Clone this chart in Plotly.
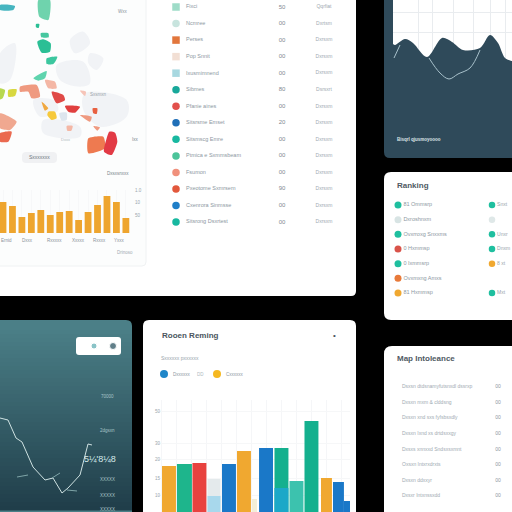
import plotly.graph_objects as go

# ---------- data ----------
map_land = [
    [(170,195),(250,185),(270,250),(240,260),(180,240)],
    [(210,120),(250,95),(270,130),(225,160)],
    [(270,160),(310,175),(290,210),(265,190)],
    [(0,160),(45,130),(30,240),(0,250)],
    [(255,280),(380,300),(380,350),(300,380),(250,330)],
    [(130,360),(240,380),(240,410),(130,400)],
    [(100,300),(160,300),(175,330),(120,350)],
]
map_regions = [
    ([(115,0),(150,0),(145,60),(118,50)], "#6fd3ad"),
    ([(108,72),(118,72),(116,84),(108,82)], "#2bbf95"),
    ([(122,100),(145,100),(146,112),(124,112)], "#46c79f"),
    ([(112,125),(130,118),(152,130),(150,155),(125,158)], "#2bbf95"),
    ([(140,175),(172,170),(160,192),(140,192)], "#3cc79f"),
    ([(100,235),(140,213),(135,235),(115,242)], "#5fd4ae"),
    ([(25,270),(50,268),(45,288),(25,290)], "#d8d840"),
    ([(0,265),(15,270),(8,295),(0,298)], "#b8d850"),
    ([(60,260),(110,255),(120,290),(95,295),(85,275),(60,275)], "#ef9a80"),
    ([(135,240),(165,245),(170,265),(145,265)], "#f4b7a5"),
    ([(155,275),(190,285),(195,300),(170,310)], "#e04a47"),
    ([(195,318),(240,320),(225,338),(205,335)], "#e0403f"),
    ([(125,305),(145,325),(135,332)], "#f0a840"),
    ([(145,335),(165,335),(170,355),(155,360),(142,345)], "#f6c93c"),
    ([(178,340),(200,338),(200,360),(185,362)], "#dde6ee"),
    ([(278,325),(292,325),(290,342),(280,340)], "#e86040"),
    ([(265,415),(310,410),(315,445),(265,460)], "#ee7a50"),
    ([(328,395),(345,398),(352,425),(335,465),(312,455),(320,415)], "#e23a45"),
    ([(0,400),(35,395),(25,425),(0,425)], "#ea6a50"),
    ([(0,340),(50,365),(30,390),(0,385)], "#f0a890"),
    ([(240,345),(275,350),(270,365)], "#ef9a80"),
    ([(240,272),(258,275),(255,288)], "#f6c4b8"),
    ([(200,378),(218,378),(214,392),(202,392)], "#f4b7a5"),
    ([(280,378),(300,382),(292,392)], "#ef9a80"),
    ([(0,15),(45,18),(40,30),(0,30)], "#46b5c0"),
]
orange_vals = [31,27,16,20,23,18,21,22,13,21,28,37,31,15]
orange_ticks = ["Ernid","Dxxx","Rxxxxx","Xxxxx","Rxxxx","Yxxx"]

table_names = ["Fixci","Ncmree","Perses","Pop Snnit","Ixusmimnend","Sibmes","Pfanie aines",
               "Sitsrsme Emset","Sitsmscg Emre","Ptmica e Sxmmsbeam","Fsumon","Pxeotome Sxmrsem",
               "Cxenrora Sinmsse","Sitsrong Dsxrtest"]
table_vals = ["50","00","00","00","00","80","00","20","00","00","00","90","00","00"]
table_dates = ["Qqrfiat","Dxrtsm","Dxrsxm","Dxrsxm","Dxrsxm","Dsrsxrt","Dxrsxm","Dxrsxm","Dxrsxm",
               "Dxrsxm","Dxrsxm","Dxrsxm","Dxrsxm","Dxrsxm"]
table_cols = ["#9fdcc8","#c8e4de","#e2763c","#f2dfd4","#a8d8e0","#18a89a","#e2504c","#1f6fb8",
              "#18b8a0","#4cc49a","#f0907c","#e2583c","#1f7fc8","#18b8a0"]
table_syms = ["square","circle","square","square","square"] + ["circle"] * 9

wave_x = [395,405,413,427,442,452,463,480,490,498,505,512]
wave_y = [45,39,43,57,38,42,50,48,35,43,58,61]
inner1_x = [394,400]
inner1_y = [58,45]
inner2_x = [429,440,449,458,470,480]
inner2_y = [58,73,79,74,68,50]

teal_x = [0,8,16,22,33,38,45,53,62,68,80,88,92]
teal_y = [418,420,438,442,467,472,480,478,493,488,475,444,445]
teal_ticks = ["70000","2dgsxn","XXXXX","XXXXX","XXXXX"]
teal_tick_pos = [396,430,479,495,509]

bar_week = [0,1.03,2.03,3,4,5,5.7,6.47,7.5,8.5,9.5,10.5,11.3,11.87]
bar_width = [0.93,1,0.93,0.87,0.93,0.93,0.33,0.93,0.93,0.93,0.93,0.73,0.73,0.4]
bar_vals = [46,48,49,33,48,61,13,64,64,31,91,34,30,11]
bar_cols = ["#f0a830","#1eb58c","#e8423f","#e4eaec","#1a78c8","#f0a830","#f3efd8","#1a78c8",
            "#14b08e","#3cc2ae","#14b08e","#f0a830","#1a78c8","#1a78c8"]
bar_lower = [0,0,0,16,0,0,0,0,24,0,0,0,0,0]
bar_lower_cols = ["#000"]*3+["#a8d8ec"]+["#000"]*4+["#1ca8c8"]+["#000"]*5
bar_ticks = ["50","30","20","15","10"]
bar_tick_vals = [101,69,53,34,17]

rank_left = ["81 Ommsrp","Dxroshnxm","Ovxrroxg Snxxms","0 Hxmmsp","0 Ixmmsrp","Ovxmxng Amxs","81 Hxmmsp"]
rank_left_cols = ["#1fbf9f","#d8e4e4","#1fbf9f","#d9534a","#1fbf9f","#e87a3a","#f0a830"]
rank_right = ["Snxt","","Unxr","Dnxm","8 xt","Mxt"]
rank_right_cols = ["#1fbf9f","#dfe8e8","#1fbf9f","#1fbf9f","#f0a830","#1fbf9f"]
rank_right_rows = [0,1,2,3,4,6]

inter_names = ["Dsxsn dtdsnamyfutsnxdl dssrxp","Dxsxn mxm & clddsng","Dxsxn xnd sxs fyfsbsxdly",
               "Dxsxn Ixnd xs drtdsxxgy","Dxsxs xnnxxd Sndsxsxmnt","Oxsxn Intxrxdrxts",
               "Dxsxn ddxxyr","Dxsxr Intxnssxdd"]
inter_vals = ["00","00","00","00","00","00","00","00"]

# ---------- helpers ----------
W = 512
fx = lambda x: x / W
fy = lambda y: 1 - y / W
fig = go.Figure()
shapes, annos = [], []

def rounded(x0, y0, x1, y1, r, fill, line=None):
    p = (f"M {fx(x0+r)} {fy(y0)} L {fx(x1-r)} {fy(y0)} Q {fx(x1)} {fy(y0)} {fx(x1)} {fy(y0+r)} "
         f"L {fx(x1)} {fy(y1-r)} Q {fx(x1)} {fy(y1)} {fx(x1-r)} {fy(y1)} "
         f"L {fx(x0+r)} {fy(y1)} Q {fx(x0)} {fy(y1)} {fx(x0)} {fy(y1-r)} "
         f"L {fx(x0)} {fy(y0+r)} Q {fx(x0)} {fy(y0)} {fx(x0+r)} {fy(y0)} Z")
    shapes.append(dict(type="path", path=p, xref="paper", yref="paper", fillcolor=fill,
                       line=dict(color=line or fill, width=1 if line else 0), layer="below"))

def text(x, y, s, size=5.5, color="#9aa5ad", anchor="left", bold=False, family="Liberation Sans"):
    annos.append(dict(x=fx(x), y=fy(y), xref="paper", yref="paper", text=f"<b>{s}</b>" if bold else s,
                      showarrow=False, xanchor=anchor, yanchor="middle", borderpad=0,
                      font=dict(size=size, color=color, family=family)))

axis_n = [0]
layout_axes = {}
def axes(x0, x1, y0, y1, xr, yr, xopts=None, yopts=None):
    axis_n[0] += 1
    n = axis_n[0]
    base = dict(showgrid=False, zeroline=False, showticklabels=False, ticks="", showline=False, fixedrange=True)
    xa = dict(base, domain=[fx(x0), fx(x1)], range=xr, anchor=f"y{n}" if n > 1 else "y")
    xa.update(xopts or {})
    ya = dict(base, domain=[fy(y1), fy(y0)], range=yr, anchor=f"x{n}" if n > 1 else "x")
    ya.update(yopts or {})
    layout_axes["xaxis" + (str(n) if n > 1 else "")] = xa
    layout_axes["yaxis" + (str(n) if n > 1 else "")] = ya
    return ("x" + (str(n) if n > 1 else ""), "y" + (str(n) if n > 1 else ""))

# ---------- panels ----------
rounded(-10, -10, 356, 296, 5, "#ffffff")
rounded(-10, -10, 146, 266, 4, "#fcfdfd", "#f0f2f3")
rounded(384, -10, 530, 158, 6, "#2f4a5a")
rounded(384, 172, 530, 320, 7, "#ffffff")
rounded(384, 346, 530, 530, 8, "#ffffff")
rounded(143, 320, 356, 530, 6, "#ffffff")
rounded(-10, 320, 132, 530, 6, "#4b7f87")
# vertical shading of the teal panel
top, bot = (75, 127, 135), (32, 62, 74)
N = 46
for i in range(N):
    t = i / (N - 1)
    c = tuple(round(top[k] + (bot[k] - top[k]) * t) for k in range(3))
    y0 = 326 + i * 4
    shapes.append(dict(type="rect", xref="paper", yref="paper", x0=0, x1=fx(132), y0=fy(y0 + 4.5), y1=fy(y0),
                       fillcolor=f"rgb{c}", line=dict(width=0), layer="below"))

# ---------- map ----------
xa, ya = axes(0, 146, 0, 200, [0, 438], [600, 0])
for poly in map_land:
    fig.add_trace(go.Scatter(x=[p[0] for p in poly] + [poly[0][0]], y=[p[1] for p in poly] + [poly[0][1]],
                             fill="toself", mode="lines", fillcolor="#f1f3f6",
                             line=dict(width=0, shape="spline"), xaxis=xa, yaxis=ya,
                             hoverinfo="skip", showlegend=False))
for poly, c in map_regions:
    fig.add_trace(go.Scatter(x=[p[0] for p in poly] + [poly[0][0]], y=[p[1] for p in poly] + [poly[0][1]],
                             fill="toself", mode="lines", fillcolor=c,
                             line=dict(width=0, shape="spline", smoothing=0.6), xaxis=xa, yaxis=ya,
                             hoverinfo="skip", showlegend=False))
rounded(22, 152, 57, 163, 4, "#f0f1f3")
text(39.5, 157, "Sxxxxxxx", 5, "#6c7680", "center")
text(122, 11, "Wxx", 4.5, "#8a949c", "center")
text(98, 94, "Sxsmxn", 4.5, "#9aa3aa", "center")
text(65, 139, "Dxxx", 4, "#b0b8be", "center")
text(135, 139, "Ixx", 4.5, "#7a858c", "center")
text(118, 173, "Dxsxsnxxx", 4.5, "#7a858c", "center")

# ---------- orange bars ----------
xa, ya = axes(0, 134, 190, 233, [-0.317, 13.86], [0, 43],
              dict(showgrid=True, gridcolor="#f7f8f9", gridwidth=1, dtick=1))
fig.add_trace(go.Bar(x=list(range(14)), y=orange_vals, marker=dict(color="#eea52e", line=dict(width=0)),
                     width=0.72, xaxis=xa, yaxis=ya, showlegend=False, hoverinfo="skip"))
for x, s in zip([6, 27, 54, 78, 99, 119], orange_ticks):
    text(x, 240, s, 4.5, "#8b949b", "center")
for y, s in zip([190, 202, 215], ["1.0", "10", "50"]):
    text(138, y, s, 4.5, "#9aa5ad", "center")
text(125, 252, "Drinoso", 4.5, "#a2abb2", "center")

# ---------- table ----------
xa, ya = axes(160, 350, 0, 230, [160, 350], [13.48, -0.423])
rows = list(range(len(table_names)))
fig.add_trace(go.Scatter(x=[176] * 14, y=rows, mode="markers", xaxis=xa, yaxis=ya, showlegend=False, hoverinfo="skip",
                         marker=dict(size=7.5, color=table_cols, symbol=table_syms, line=dict(width=0))))
fig.add_trace(go.Scatter(x=[186] * 14, y=rows, text=table_names, mode="text", textposition="middle right",
                         xaxis=xa, yaxis=ya, showlegend=False, hoverinfo="skip",
                         textfont=dict(size=5.5, color="#8d98a2", family="Liberation Sans")))
fig.add_trace(go.Scatter(x=[282] * 14, y=rows, text=table_vals, mode="text", textposition="middle center",
                         xaxis=xa, yaxis=ya, showlegend=False, hoverinfo="skip",
                         textfont=dict(size=6, color="#7f8a92", family="Liberation Sans")))
fig.add_trace(go.Scatter(x=[324] * 14, y=rows, text=table_dates, mode="text", textposition="middle center",
                         xaxis=xa, yaxis=ya, showlegend=False, hoverinfo="skip",
                         textfont=dict(size=5, color="#a0aab2", family="Liberation Sans")))

# ---------- top-right wave ----------
shapes.append(dict(type="rect", xref="paper", yref="paper", x0=fx(393), x1=1, y0=fy(70), y1=1,
                   fillcolor="#ffffff", line=dict(width=0), layer="below"))
xa, ya = axes(393, 512, 0, 100, [393, 512], [100, 0],
              dict(showgrid=True, gridcolor="#e9ecef", tickvals=[418, 432, 453, 473, 490, 505]),
              dict(showgrid=True, gridcolor="#e9ecef", tickvals=[12, 32]))
fig.add_trace(go.Scatter(x=[393] + wave_x + [512, 512, 393], y=[44] + wave_y + [61, 100, 100], mode="lines",
                         line=dict(width=0, shape="spline", smoothing=0.9), fill="toself", fillcolor="#2f4a5a",
                         xaxis=xa, yaxis=ya, showlegend=False, hoverinfo="skip"))
fig.add_trace(go.Scatter(x=inner1_x, y=inner1_y, mode="lines", line=dict(color="#a9c2cc", width=1),
                         xaxis=xa, yaxis=ya, showlegend=False, hoverinfo="skip"))
fig.add_trace(go.Scatter(x=inner2_x, y=inner2_y, mode="lines", line=dict(color="#a9c2cc", width=1, shape="spline"),
                         xaxis=xa, yaxis=ya, showlegend=False, hoverinfo="skip"))
text(396, 139, "Bisqrl qjusmoyoooo", 4.5, "#dce4e8", bold=True)

# ---------- teal line ----------
xa, ya = axes(0, 132, 320, 512, [0, 132], [512, 320])
fig.add_trace(go.Scatter(x=teal_x, y=teal_y, mode="lines", line=dict(color="#cfe2e2", width=1),
                         xaxis=xa, yaxis=ya, showlegend=False, hoverinfo="skip"))
for xs, ys in [([17, 28], [477, 475]), ([52, 60], [478, 473]), ([67, 77], [490, 491])]:
    fig.add_trace(go.Scatter(x=xs, y=ys, mode="lines", line=dict(color="#7fa5a8", width=1),
                             xaxis=xa, yaxis=ya, showlegend=False, hoverinfo="skip"))
for y, s in zip(teal_tick_pos, teal_ticks):
    text(107, y, s, 4.5, "#a8c4c8", "center")
text(100, 459, "5¼'8¼8", 9, "#d8ecec", "center")
rounded(76, 337, 121, 355, 3, "#ffffff")
fig.add_trace(go.Scatter(x=[94, 113], y=[346, 346], mode="markers", xaxis=xa, yaxis=ya, showlegend=False,
                         hoverinfo="skip", marker=dict(size=[6, 7], color=["#5aaab0", "#1f4a58"])))

# ---------- bottom-centre bars ----------
xa, ya = axes(158, 350, 400, 512, [-0.733, 12.07], [0, 112],
              dict(showgrid=True, gridcolor="#f5f6f8", dtick=1, tick0=0.5),
              dict(showgrid=True, gridcolor="#f6f7f8", tickvals=bar_tick_vals, ticktext=bar_ticks))
fig.add_trace(go.Bar(x=bar_week, y=bar_vals, marker=dict(color=bar_cols, line=dict(width=0)), width=bar_width,
                     xaxis=xa, yaxis=ya, showlegend=False, hoverinfo="skip"))
fig.add_trace(go.Bar(x=bar_week, y=bar_lower, marker=dict(color=bar_lower_cols, line=dict(width=0)), width=bar_width,
                     xaxis=xa, yaxis=ya, showlegend=False, hoverinfo="skip"))
for v, s in zip(bar_tick_vals, bar_ticks):
    text(158, 512 - v, s, 4.5, "#9aa5ad", "center")
text(161, 335, "Rooen Reming", 8, "#4a555e", bold=True, family="Liberation Sans")
text(334, 335, "•", 8, "#4a555e", "center")
text(160, 358, "Sxxxxxx pxxxxxx", 5, "#9aa5ad")
xa2, ya2 = axes(150, 240, 365, 385, [150, 240], [385, 365])
fig.add_trace(go.Scatter(x=[164, 217], y=[374, 374], mode="markers", xaxis=xa2, yaxis=ya2, showlegend=False,
                         hoverinfo="skip", marker=dict(size=8, color=["#1f86c8", "#f5b820"])))
text(172, 374, "Dxxxxxx", 4.5, "#8d98a2")
text(200, 374, "DD", 4.5, "#b0bac0", "center")
text(225, 374, "Cxxxxxx", 4.5, "#8d98a2")

# ---------- ranking ----------
text(396, 185, "Ranking", 8, "#4f5a63", bold=True, family="Liberation Sans")
xa, ya = axes(390, 512, 198, 300, [390, 512], [6.48, -0.48])
rr = list(range(len(rank_left)))
fig.add_trace(go.Scatter(x=[398] * 7, y=rr, mode="markers+text", text=rank_left, textposition="middle right",
                         xaxis=xa, yaxis=ya, showlegend=False, hoverinfo="skip",
                         textfont=dict(size=5.5, color="#8d98a2", family="Liberation Sans"),
                         marker=dict(size=7, color=rank_left_cols)))
fig.add_trace(go.Scatter(x=[492] * 6, y=rank_right_rows, mode="markers+text", text=rank_right,
                         textposition="middle right", xaxis=xa, yaxis=ya, showlegend=False, hoverinfo="skip",
                         textfont=dict(size=5, color="#9aa5ad", family="Liberation Sans"),
                         marker=dict(size=6.5, color=rank_right_cols)))

# ---------- intolerance list ----------
text(396, 358, "Map Intoleance", 8, "#4f5a63", bold=True, family="Liberation Sans")
xa, ya = axes(390, 512, 380, 512, [390, 512], [8.01, -0.45])
ri = list(range(len(inter_names)))
fig.add_trace(go.Scatter(x=[402] * 8, y=ri, mode="text", text=inter_names, textposition="middle right",
                         xaxis=xa, yaxis=ya, showlegend=False, hoverinfo="skip",
                         textfont=dict(size=5, color="#a0aab2", family="Liberation Sans")))
fig.add_trace(go.Scatter(x=[498] * 8, y=ri, mode="text", text=inter_vals, textposition="middle center",
                         xaxis=xa, yaxis=ya, showlegend=False, hoverinfo="skip",
                         textfont=dict(size=5, color="#8d98a2", family="Liberation Sans")))

fig.update_layout(width=512, height=512, margin=dict(l=0, r=0, t=0, b=0), paper_bgcolor="#000000",
                  plot_bgcolor="rgba(0,0,0,0)", showlegend=False, barmode="overlay",
                  shapes=shapes, annotations=annos, **layout_axes)
fig.write_html("out.html", config=dict(displayModeBar=False),
               post_script="document.body.style.margin='0';document.body.style.background='#000';document.documentElement.style.overflow='hidden';")
